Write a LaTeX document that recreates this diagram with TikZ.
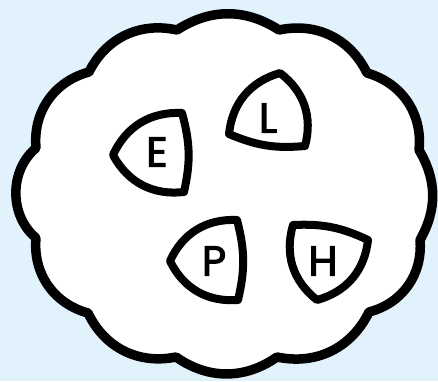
\documentclass[tikz,border=0pt]{standalone}
\usepackage{fontspec}
\setmainfont{Poppins}
\newfontfamily\letterfont{Poppins}[FakeBold=2.5]
\definecolor{bgblue}{RGB}{226,242,252}
\begin{document}
\begin{tikzpicture}[x=1pt,y=-1pt,
  cloudline/.style={line width=9.5pt, line join=round, draw=black, fill=white},
  tri/.style={line width=8pt, line join=round, draw=black, fill=white},
  letter/.style={font=\letterfont\fontsize{42}{42}\selectfont, inner sep=0pt}]
\fill[bgblue] (0,0) rectangle (438,381);
\useasboundingbox (0,0) rectangle (438,381);
% cloud valleys
\coordinate (v1) at (177,30);
\coordinate (v2) at (279,30);
\coordinate (v3) at (367,73);
\coordinate (v4) at (419,150);
\coordinate (v5) at (420,240);
\coordinate (v6) at (369,312);
\coordinate (v7) at (277,357);
\coordinate (v8) at (176,357);
\coordinate (v9) at (88,313);
\coordinate (v10) at (36,238);
\coordinate (v11) at (36,148);
\coordinate (v12) at (89,72);
\draw[cloudline] (v1) to[bend left=33] (v2) to[bend left=38] (v3)
  to[bend left=40] (v4) to[bend left=30] (v5) to[bend left=40] (v6)
  to[bend left=38] (v7) to[bend left=35] (v8) to[bend left=38] (v9)
  to[bend left=40] (v10) to[bend left=50] (v11) to[bend left=40] (v12)
  to[bend left=38] (v1) -- cycle;
% E triangle
\coordinate (e1) at (113,155);
\coordinate (e2) at (182,113);
\coordinate (e3) at (184,192);
\draw[tri] (e1) to[bend left=34] (e2) to[bend left=14] (e3) to[bend left=34] (e1) -- cycle;
% L triangle
\coordinate (l1) at (280,73);
\coordinate (l2) at (305,146);
\coordinate (l3) at (229,134);
\draw[tri] (l1) to[bend left=34] (l2) to[bend left=14] (l3) to[bend left=34] (l1) -- cycle;
% P triangle
\coordinate (p1) at (170,261);
\coordinate (p2) at (237,220);
\coordinate (p3) at (238,300);
\draw[tri] (p1) to[bend left=34] (p2) to[bend left=14] (p3) to[bend left=34] (p1) -- cycle;
% H triangle
\coordinate (h1) at (293,225);
\coordinate (h2) at (368,240);
\coordinate (h3) at (317,300);
\draw[tri] (h1) to[bend left=14] (h2) to[bend left=34] (h3) to[bend left=34] (h1) -- cycle;
% letters
\node[letter] (E) at (157,152) {E};
\node[letter] (L) at (268,118) {L};
\node[letter] (P) at (214,261) {P};
\node[letter] (H) at (323,261) {H};
\end{tikzpicture}
\end{document}
